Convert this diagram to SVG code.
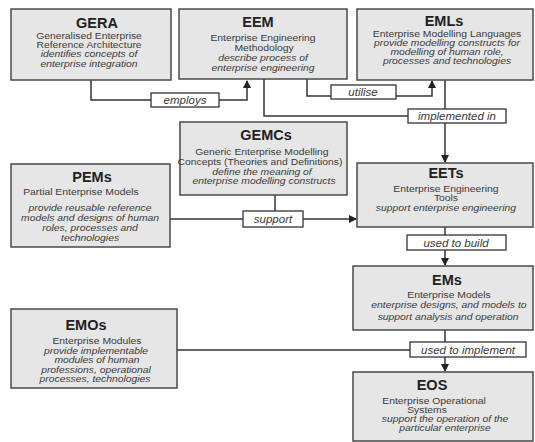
<svg xmlns="http://www.w3.org/2000/svg" width="535" height="442" viewBox="0 0 535 442">
<style>
.box{fill:#e6e6e6;stroke:#4a4a4a;stroke-width:1.5}
.lab{fill:#fff;stroke:#333;stroke-width:1.3}
.t{font-family:"Liberation Sans",Arial,sans-serif;fill:#3a3a3a;text-anchor:middle}
.h{font-size:14.5px;font-weight:bold;fill:#222}
.b{font-size:9px}
.i{font-size:9px;font-style:italic}
.l{font-size:11.5px;font-style:italic}
.c{fill:none;stroke:#333;stroke-width:1.5}
</style>
<defs>
<marker id="ar" markerWidth="8" markerHeight="8" refX="7" refY="4" orient="auto" markerUnits="userSpaceOnUse">
<path d="M0,0 L8,4 L0,8 z" fill="#222"/>
</marker>
</defs>
<g id="connectors">
<path class="c" d="M91,80 V100 H247 V81" marker-end="url(#ar)"/>
<path class="c" d="M307,79 V96 H432 V81" marker-end="url(#ar)"/>
<path class="c" d="M264,79 V116 H410"/>
<path class="c" d="M445,80 V162" marker-end="url(#ar)"/>
<path class="c" d="M275,195 V212"/>
<path class="c" d="M170,219 H356" marker-end="url(#ar)"/>
<path class="c" d="M445,227 V265" marker-end="url(#ar)"/>
<path class="c" d="M445,330 V371" marker-end="url(#ar)"/>
<path class="c" d="M177,350 H412"/>
<rect class="lab" x="151" y="93" width="68" height="14"/>
<text class="t l" x="185" y="104">employs</text>
<rect class="lab" x="331" y="85" width="65" height="14"/>
<text class="t l" x="363" y="96">utilise</text>
<rect class="lab" x="408" y="109" width="98" height="14"/>
<text class="t l" x="457" y="120">implemented in</text>
<rect class="lab" x="243" y="211" width="60" height="16"/>
<text class="t l" x="273" y="223">support</text>
<rect class="lab" x="407" y="235" width="99" height="15"/>
<text class="t l" x="456" y="246.5">used to build</text>
<rect class="lab" x="410" y="342" width="116" height="15"/>
<text class="t l" x="468" y="353.5">used to implement</text>
</g>
<g id="GERA">
<rect class="box" x="11" y="9" width="160" height="71"/>
<text class="t h" x="97" y="28">GERA</text>
<g transform="scale(1.15 1)">
<text class="t b" x="77.4" y="39.5">Generalised Enterprise</text>
<text class="t b" x="77.4" y="48.5">Reference Architecture</text>
<text class="t i" x="77.4" y="57.5">identifies concepts of</text>
<text class="t i" x="77.4" y="67">enterprise integration</text>
</g>
</g>
<g id="EEM">
<rect class="box" x="179" y="9" width="168" height="70"/>
<text class="t h" x="258" y="27">EEM</text>
<g transform="scale(1.15 1)">
<text class="t b" x="228.7" y="41.5">Enterprise Engineering</text>
<text class="t b" x="229.6" y="51.5">Methodology</text>
<text class="t i" x="228.7" y="61.5">describe process of</text>
<text class="t i" x="228.7" y="71.5">enterprise engineering</text>
</g>
</g>
<g id="EMLs">
<rect class="box" x="357" y="9" width="176" height="71"/>
<text class="t h" x="444" y="26">EMLs</text>
<g transform="scale(1.15 1)">
<text class="t b" x="388.7" y="37">Enterprise Modelling Languages</text>
<text class="t i" x="388.7" y="46">provide modelling constructs for</text>
<text class="t i" x="388.7" y="55">modelling of human role,</text>
<text class="t i" x="388.7" y="64">processes and technologies</text>
</g>
</g>
<g id="GEMCs">
<rect class="box" x="180" y="122" width="167" height="73"/>
<text class="t h" x="266" y="140">GEMCs</text>
<g transform="scale(1.15 1)">
<text class="t b" x="227.8" y="155.5">Generic Enterprise Modelling</text>
<text class="t b" x="226.1" y="165.5">Concepts (Theories and Definitions)</text>
<text class="t i" x="227.8" y="175">define the meaning of</text>
<text class="t i" x="229.6" y="184.5">enterprise modelling  constructs</text>
</g>
</g>
<g id="PEMs">
<rect class="box" x="11" y="164" width="159" height="83"/>
<text class="t h" x="92" y="182">PEMs</text>
<g transform="scale(1.15 1)">
<text class="t b" x="70.4" y="195.5">Partial Enterprise Models</text>
<text class="t i" x="78.3" y="211.5">provide reusable reference</text>
<text class="t i" x="78.3" y="221.5">models and designs of human</text>
<text class="t i" x="78.3" y="231.5">roles, processes and</text>
<text class="t i" x="78.3" y="241.5">technologies</text>
</g>
</g>
<g id="EETs">
<rect class="box" x="357" y="163" width="176" height="64"/>
<text class="t h" x="446" y="178">EETs</text>
<g transform="scale(1.15 1)">
<text class="t b" x="387.8" y="192">Enterprise Engineering</text>
<text class="t b" x="387.8" y="201.5">Tools</text>
<text class="t i" x="387.8" y="211.5">support enterprise engineering</text>
</g>
</g>
<g id="EMs">
<rect class="box" x="353" y="266" width="180" height="64"/>
<text class="t h" x="447" y="285">EMs</text>
<g transform="scale(1.15 1)">
<text class="t b" x="390.4" y="298.5">Enterprise Models</text>
<text class="t i" x="390.4" y="308.5">enterprise designs, and models to</text>
<text class="t i" x="389.6" y="320">support analysis and operation</text>
</g>
</g>
<g id="EMOs">
<rect class="box" x="11" y="309" width="166" height="79"/>
<text class="t h" x="86" y="330">EMOs</text>
<g transform="scale(1.15 1)">
<text class="t b" x="84.3" y="344.5">Enterprise Modules</text>
<text class="t i" x="83.5" y="354">provide implementable</text>
<text class="t i" x="84.3" y="363.5">modules of human</text>
<text class="t i" x="83.5" y="373">professions, operational</text>
<text class="t i" x="82.6" y="382.5">processes, technologies</text>
</g>
</g>
<g id="EOS">
<rect class="box" x="353" y="372" width="180" height="69"/>
<text class="t h" x="432" y="390">EOS</text>
<g transform="scale(1.15 1)">
<text class="t b" x="377.4" y="404">Enterprise Operational</text>
<text class="t b" x="371.3" y="413">Systems</text>
<text class="t i" x="387" y="422">support the operation of the</text>
<text class="t i" x="387" y="431">particular enterprise</text>
</g>
</g>
</svg>
